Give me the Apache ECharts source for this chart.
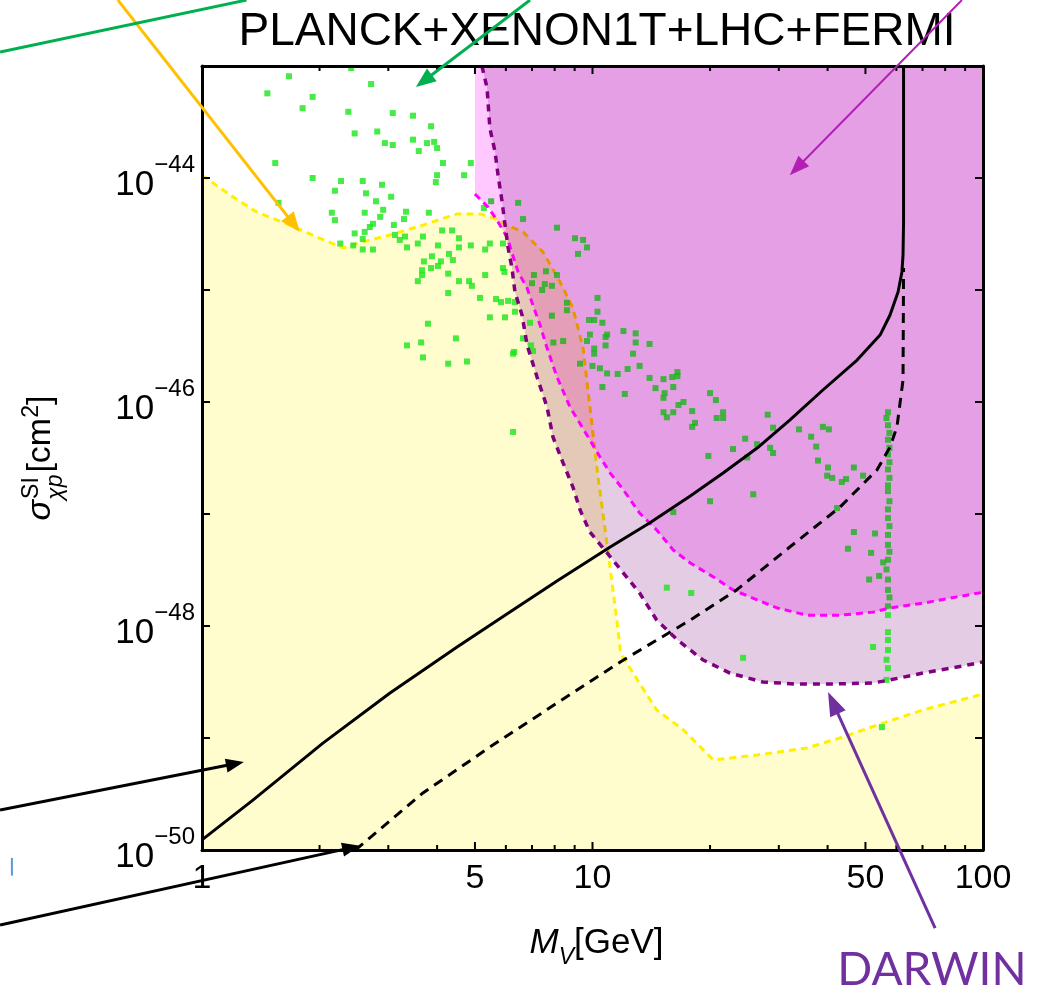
<!DOCTYPE html>
<html>
<head>
<meta charset="utf-8">
<script src="https://cdn.jsdelivr.net/npm/echarts@6/dist/echarts.min.js"></script>
<style>
  html, body { margin: 0; padding: 0; background: #fff; }
  #chart { width: 1038px; height: 996px; }
</style>
</head>
<body>
<div id="chart"></div>
<script>
// ---------- axis ticks and labels ----------
const massTicks = [1, 2, 3, 4, 5, 6, 7, 8, 9, 10, 20, 30, 40, 50, 60, 70, 80, 90, 100];
const massLabels = [1, 5, 10, 50, 100];
const sigmaDecades = [-50, -49, -48, -47, -46, -45, -44, -43];   // powers of ten
const sigmaLabelDecades = [-50, -48, -46, -44];

// ---------- boundaries: [M_V (GeV), sigma (cm^2)] ----------
// neutrino floor (yellow, shaded below)
const neutrinoFloor = [
  [1.0, 1.06e-44], [1.18, 7.05e-45], [1.38, 4.97e-45], [1.68, 3.8e-45], [1.97, 2.97e-45],
  [2.30, 2.37e-45], [2.58, 2.69e-45], [3.03, 3.1e-45], [3.68, 3.8e-45], [4.50, 4.78e-45],
  [5.15, 4.78e-45], [5.56, 4.4e-45], [6.04, 3.8e-45], [6.64, 3.3e-45], [7.47, 2.18e-45],
  [8.26, 1.18e-45], [8.91, 6.9e-46], [9.46, 3.03e-46], [9.85, 9.0e-47], [10.3, 2.32e-47],
  [10.8, 6.76e-48], [11.2, 2.58e-48], [11.6, 9.8e-49], [11.8, 5.74e-49], [12.7, 3.8e-49],
  [14.6, 1.78e-49], [17.1, 1.18e-49], [20.4, 6.37e-50], [26.4, 7.05e-50], [35.4, 8.15e-50],
  [43.0, 1.0e-49], [55.5, 1.36e-49], [70.2, 1.78e-49], [100, 2.47e-49]
];
// direct-detection limit (magenta, shaded above; vertical edge at 5 GeV)
const directLimitEdge = [5.0, 1e-43];
const directLimit = [
  [5.0, 7.2e-45], [5.40, 5.5e-45], [5.73, 4.05e-45], [6.04, 2.97e-45], [6.22, 2.14e-45],
  [6.45, 1.45e-45], [6.80, 1.04e-45], [7.04, 7.3e-46], [7.34, 4.86e-46], [7.65, 3.03e-46],
  [8.11, 1.67e-46], [8.76, 9.0e-47], [9.57, 5.4e-47], [10.45, 3.23e-47], [11.1, 2.32e-47],
  [12.0, 1.64e-47], [13.2, 1.02e-47], [14.6, 7.2e-48], [16.1, 4.77e-48], [17.8, 3.65e-48],
  [20.4, 2.74e-48], [22.9, 2.1e-48], [26.4, 1.71e-48], [29.7, 1.45e-48], [35.4, 1.25e-48],
  [43.0, 1.25e-48], [52.3, 1.33e-48], [57.8, 1.45e-48], [70.2, 1.6e-48], [85.8, 1.82e-48],
  [100, 2.0e-48]
];
// DARWIN projected reach (purple, shaded above)
const darwinReach = [
  [5.21, 1e-43], [5.37, 6.37e-44], [5.46, 2.79e-44], [5.63, 1.71e-44], [5.73, 1.06e-44],
  [5.87, 6.1e-45], [5.97, 3.8e-45], [6.08, 2.37e-45], [6.22, 1.57e-45], [6.33, 9.6e-46],
  [6.60, 5.98e-46], [6.80, 3.23e-46], [7.21, 1.67e-46], [7.65, 9.0e-47], [7.92, 4.87e-47],
  [8.41, 2.85e-47], [8.91, 1.74e-47], [9.29, 1.09e-47], [9.85, 6.9e-48], [10.9, 4.49e-48],
  [12.0, 2.97e-48], [13.2, 1.97e-48], [14.6, 1.13e-48], [16.5, 7.5e-49], [19.2, 4.97e-49],
  [22.5, 3.8e-49], [27.3, 3.16e-49], [33.4, 3.03e-49], [40.6, 3.03e-49], [52.3, 3.1e-49],
  [57.8, 3.3e-49], [70.2, 3.8e-49], [85.8, 4.3e-49], [100, 4.78e-49]
];
// model cross sections (black)
const sigmaSolid = [
  [1.0, 1.23e-50], [1.35, 2.79e-50], [2.04, 9.0e-50], [3.03, 2.52e-49], [4.50, 6.5e-49],
  [5.97, 1.25e-48], [8.11, 2.52e-48], [11.1, 5.07e-48], [14.0, 8.3e-48], [17.8, 1.45e-47],
  [21.6, 2.32e-47], [26.4, 3.88e-47], [32.0, 6.9e-47], [38.9, 1.28e-46], [47.6, 2.37e-46],
  [54.5, 3.96e-46], [57.8, 5.98e-46], [60.6, 9.6e-46], [62.0, 1.45e-45], [62.4, 2.05e-45],
  [62.6, 4.05e-45], [62.6, 1e-43]
];
const sigmaDashed = [
  [2.47, 1e-50], [2.65, 1.23e-50], [3.68, 3.23e-50], [5.46, 8.3e-50], [8.11, 2.05e-49],
  [12.0, 4.97e-49], [17.8, 1.13e-48], [23.4, 2.1e-48], [32.0, 5.07e-48], [43.0, 1.15e-47],
  [53.5, 2.47e-47], [57.8, 3.96e-47], [60.2, 5.98e-47], [62.4, 1.57e-46], [62.6, 1.57e-45]
];

// ---------- parameter scan points ----------
const scanPoints = [
  [1.67, 8.1e-44], [2.41, 9.6e-44], [2.71, 6.9e-44], [1.47, 5.7e-44], [1.92, 5.3e-44],
  [1.81, 4.2e-44], [2.37, 3.9e-44], [3.08, 3.8e-44], [3.47, 3.6e-44], [3.86, 2.9e-44],
  [2.46, 2.5e-44], [2.81, 2.6e-44], [3.47, 2.2e-44], [2.94, 2.05e-44], [3.08, 1.97e-44],
  [3.77, 2.05e-44], [3.93, 2.1e-44], [4.0, 1.85e-44], [3.59, 1.74e-44], [4.14, 1.36e-44],
  [4.88, 1.36e-44], [1.54, 1.36e-44], [4.69, 1.06e-44], [4.0, 1.06e-44], [3.97, 9.2e-45],
  [1.92, 1.0e-44], [2.27, 9.4e-45], [2.58, 9.4e-45], [2.89, 8.7e-45], [2.19, 7.7e-45],
  [2.63, 7.3e-45], [3.05, 6.8e-45], [1.57, 6.0e-45], [2.79, 6.2e-45], [2.91, 5.2e-45],
  [2.61, 4.9e-45], [2.15, 4.9e-45], [2.19, 4.2e-45], [2.86, 4.5e-45], [3.33, 5.0e-45],
  [3.29, 4.3e-45], [3.81, 4.9e-45], [5.5, 6.2e-45], [6.45, 6.0e-45], [6.64, 4.3e-45],
  [5.27, 5.4e-45], [2.26, 2.6e-45], [2.44, 2.5e-45], [2.46, 3.2e-45], [2.58, 2.85e-45],
  [2.61, 3.3e-45], [2.69, 3.65e-45], [2.74, 3.9e-45], [3.10, 3.8e-45], [3.12, 3.1e-45],
  [3.21, 2.8e-45], [3.31, 3.0e-45], [2.58, 2.3e-45], [2.74, 2.3e-45], [3.35, 2.4e-45],
  [3.57, 2.6e-45], [3.68, 3.0e-45], [4.02, 2.5e-45], [4.12, 3.4e-45], [4.37, 3.4e-45],
  [4.55, 2.9e-45], [4.55, 2.4e-45], [4.88, 2.5e-45], [5.31, 2.3e-45], [5.46, 2.6e-45],
  [5.9, 2.6e-45], [4.29, 2.1e-45], [3.88, 2.0e-45], [4.09, 1.8e-45], [3.70, 1.8e-45],
  [4.39, 1.85e-45], [3.66, 1.5e-45], [3.66, 1.36e-45], [3.57, 1.2e-45], [3.86, 1.57e-45],
  [4.02, 1.64e-45], [4.27, 1.4e-45], [4.55, 1.2e-45], [4.83, 1.2e-45], [4.91, 1.09e-45],
  [5.31, 1.36e-45], [5.9, 1.57e-45], [5.95, 1.45e-45], [8.11, 3.6e-45], [9.02, 2.9e-45],
  [9.46, 2.8e-45], [9.68, 2.4e-45], [9.18, 2.1e-45], [7.08, 1.36e-45], [7.6, 1.47e-45],
  [8.11, 1.36e-45], [7.0, 1.15e-45], [7.55, 1.13e-45], [7.87, 1.09e-45], [7.43, 1.0e-45],
  [6.08, 8.0e-46], [6.33, 7.8e-46], [5.83, 7.8e-46], [5.66, 8.3e-46], [5.15, 8.5e-46],
  [5.46, 5.7e-46], [5.97, 5.7e-46], [6.33, 6.4e-46], [8.6, 7.7e-46], [8.6, 6.6e-46],
  [7.87, 5.9e-46], [10.3, 8.5e-46], [10.3, 6.4e-46], [9.8, 5.4e-46], [10.1, 5.4e-46],
  [10.6, 5.1e-46], [6.92, 5.1e-46], [4.27, 9.4e-46], [3.79, 5.0e-46], [4.47, 3.7e-46],
  [3.35, 3.2e-46], [3.64, 3.4e-46], [6.64, 3.7e-46], [10.8, 3.8e-46], [9.85, 4.0e-46],
  [7.94, 3.4e-46], [8.41, 3.5e-46], [9.68, 3.5e-46], [10.1, 3.0e-46], [10.8, 3.2e-46],
  [6.96, 3.2e-46], [6.3, 2.8e-46], [7.04, 2.85e-46], [3.68, 2.5e-46], [4.27, 2.2e-46],
  [4.77, 2.3e-46], [6.26, 2.7e-46], [6.26, 5.4e-47], [9.29, 2.2e-46], [10.0, 2.1e-46],
  [10.9, 1.8e-46], [10.6, 1.36e-46], [12.0, 4.3e-46], [12.9, 4.1e-46], [12.9, 3.4e-46],
  [14.0, 3.3e-46], [10.9, 4.0e-46], [12.7, 2.7e-46], [10.1, 2.7e-46], [10.45, 2.0e-46],
  [11.6, 1.78e-46], [12.3, 1.97e-46], [13.2, 2.1e-46], [12.1, 1.18e-46], [14.0, 1.64e-46],
  [14.5, 1.33e-46], [15.2, 1.6e-46], [16.0, 1.67e-46], [16.5, 1.85e-46], [16.5, 1.7e-46],
  [16.1, 1.36e-46], [15.3, 1.2e-46], [15.2, 1.09e-46], [17.1, 1.0e-46], [16.6, 9.4e-47],
  [16.1, 8.1e-47], [15.2, 8.1e-47], [15.5, 7.3e-47], [18.0, 8.3e-47], [18.3, 6.5e-47],
  [18.0, 6.0e-47], [20.0, 1.2e-46], [20.7, 1.04e-46], [21.6, 8.1e-47], [20.8, 7.2e-47],
  [21.6, 7.2e-47], [28.1, 7.7e-47], [29.0, 5.9e-47], [33.8, 5.7e-47], [38.9, 6.0e-47],
  [40.3, 5.7e-47], [36.3, 4.9e-47], [37.4, 4.0e-47], [24.6, 4.7e-47], [22.9, 3.8e-47],
  [26.4, 4.2e-47], [28.5, 3.9e-47], [29.0, 3.5e-47], [19.8, 3.3e-47], [24.9, 3.2e-47],
  [25.8, 1.5e-47], [20.0, 1.3e-47], [16.1, 1.04e-47], [37.8, 3.0e-47], [40.1, 2.6e-47],
  [39.9, 2.2e-47], [41.1, 2.1e-47], [43.5, 1.93e-47], [44.6, 2.05e-47], [46.7, 2.6e-47],
  [49.3, 2.2e-47], [42.3, 1.13e-47], [46.7, 6.9e-48], [52.9, 6.7e-48], [45.1, 4.9e-48],
  [51.7, 4.5e-48], [55.5, 3.7e-48], [51.1, 2.6e-48], [54.2, 2.8e-48], [15.5, 2.2e-48],
  [17.9, 1.97e-48], [55.1, 1.25e-49], [52.3, 6.5e-49], [24.3, 5.2e-49],
  // resonance column near M_V ~ 57 GeV
  [57.1, 8.1e-47], [56.6, 7.2e-47], [57.1, 6.2e-47], [57.6, 5.3e-47], [57.1, 4.6e-47],
  [57.6, 3.9e-47], [57.1, 3.4e-47], [57.6, 2.9e-47], [57.1, 2.5e-47], [57.6, 2.1e-47],
  [57.1, 1.8e-47], [57.1, 1.6e-47], [57.6, 1.3e-47], [57.1, 1.1e-47], [57.1, 9.2e-48],
  [57.6, 7.8e-48], [57.1, 6.5e-48], [57.1, 5.3e-48], [57.6, 4.6e-48], [57.1, 3.9e-48],
  [56.6, 3.2e-48], [57.1, 2.6e-48], [57.1, 2.1e-48], [57.6, 1.8e-48], [57.1, 1.5e-48],
  [57.1, 1.25e-48], [57.1, 8.8e-49], [57.1, 7.5e-49], [57.1, 6.1e-49], [56.6, 5.0e-49],
  [57.1, 4.2e-49], [56.6, 3.3e-49]
];

// ---------- pointer arrows and notes around the frame ----------
const pointerArrows = [
  { from: [0.609, 3.88e-43], to: [1.78, 3.3e-45], color: '#ffc000', width: 3, head: [20, 16] },
  { from: [0.304, 1.33e-43], to: [1.30, 3.88e-43], color: '#00b050', width: 3, head: null },
  { from: [6.92, 3.88e-43], to: [3.53, 6.5e-44], color: '#00b050', width: 3, head: [20, 16] },
  { from: [88.3, 3.88e-43], to: [32.0, 1.06e-44], color: '#b21fb5', width: 2, head: [20, 15] },
  { from: [0.304, 2.28e-50], to: [1.28, 6.1e-50], color: '#000000', width: 3, head: [18, 14] },
  { from: [0.304, 2.14e-51], to: [2.54, 1.09e-50], color: '#000000', width: 3, head: [18, 14] },
  { from: [75.4, 2.01e-51], to: [40.1, 2.58e-49], color: '#7030a0', width: 3, head: [24, 17] },
  { from: [0.326, 8.5e-51], to: [0.326, 5.9e-51], color: '#5b9bd5', width: 2, head: null }
];
const darwinNote = { text: 'DARWIN', at: [74.0, 8.5e-52] };

const FONT = '"Liberation Sans", Arial, sans-serif';
const MASS_MIN = 1, MASS_MAX = 100;
const DEC_MIN = -50, DEC_MAX = -43;

// The cross-section axis is laid out in decades (log10 of sigma in cm^2).
const toDecades = pts => pts.map(p => [p[0], Math.log10(p[1])]);

const chart = echarts.init(document.getElementById('chart'), null, { renderer: 'canvas' });

function massAxis(position, withLabels) {
  return {
    type: 'log', logBase: 10, min: MASS_MIN, max: MASS_MAX, position: position, z: 20,
    axisLine: { show: true, onZero: false, lineStyle: { color: '#000', width: 3 } },
    axisTick: { show: false },
    splitLine: { show: false }, minorTick: { show: false },
    axisLabel: withLabels ? { show: true, customValues: massLabels, color: '#000', fontSize: 34,
      fontFamily: FONT, margin: 12, formatter: v => String(Math.round(v)) } : { show: false }
  };
}
function sigmaAxis(position, withLabels) {
  return {
    type: 'value', min: DEC_MIN, max: DEC_MAX, interval: 1, position: position, z: 20,
    axisLine: { show: true, onZero: false, lineStyle: { color: '#000', width: 3 } },
    axisTick: { show: true, inside: true, length: 8, lineStyle: { color: '#000', width: 2 } },
    splitLine: { show: false }, minorTick: { show: false },
    axisLabel: withLabels ? {
      show: true, margin: 7, showMinLabel: true, showMaxLabel: true,
      formatter: v => sigmaLabelDecades.indexOf(Math.round(v)) >= 0
        ? '{b|10}{s|\u2212' + (-Math.round(v)) + '}' : '',
      rich: {
        b: { fontSize: 35, fontFamily: FONT, color: '#000', lineHeight: 49, verticalAlign: 'bottom' },
        s: { fontSize: 24, fontFamily: FONT, color: '#000', lineHeight: 24, verticalAlign: 'top' }
      }
    } : { show: false }
  };
}

// polygon fill for a bounded region, drawn through the axes' own scales
function regionSeries(outline, z, color, blend) {
  const pts = toDecades(outline);
  return {
    type: 'custom', z: z, silent: true, clip: true, blendMode: blend || 'source-over',
    data: [pts[0]],
    renderItem: (params, api) => ({
      type: 'polygon',
      shape: { points: pts.map(p => api.coord(p)) },
      style: { fill: color }
    })
  };
}

// log-spaced tick marks along the top and bottom edges of the frame
const massTickSeries = {
  type: 'custom', z: 30, silent: true, clip: false,
  data: massTicks.map(v => [v, DEC_MIN]),
  renderItem: (params, api) => {
    const v = api.value(0);
    const b = api.coord([v, DEC_MIN]), t = api.coord([v, DEC_MAX]);
    const L = massLabels.indexOf(v) >= 0 ? 8 : 5;
    const st = { stroke: '#000', lineWidth: 2 };
    return { type: 'group', children: [
      { type: 'line', shape: { x1: b[0], y1: b[1], x2: b[0], y2: b[1] - L }, style: st },
      { type: 'line', shape: { x1: t[0], y1: t[1], x2: t[0], y2: t[1] + L }, style: st }
    ] };
  }
};

function curve(data, z, color, width, dash) {
  return { type: 'line', data: toDecades(data), z: z, symbol: 'none', silent: true,
    lineStyle: { color: color, width: width, type: dash || 'solid', join: 'round' } };
}

chart.setOption({
  animation: false,
  backgroundColor: '#ffffff',
  title: {
    text: 'PLANCK+XENON1T+LHC+FERMI', left: 592, top: 4, textAlign: 'center',
    textStyle: { fontSize: 46, fontWeight: 'normal', fontFamily: FONT, color: '#000' }
  },
  grid: { left: 202, right: 55, top: 66, bottom: 146, containLabel: false, outerBoundsMode: 'none' },
  xAxis: [massAxis('bottom', true), massAxis('top', false)],
  yAxis: [sigmaAxis('left', true), sigmaAxis('right', false)],
  series: [
    regionSeries(neutrinoFloor.concat([[MASS_MAX, 1e-50], [MASS_MIN, 1e-50]]), 1, '#fffccd', null),
    curve(neutrinoFloor, 2, '#fff000', 3, [7, 5]),
    regionSeries(darwinReach.concat([[MASS_MAX, 1e-43]]), 3, '#e5cce5', 'multiply'),
    { // scan points
      type: 'scatter', data: toDecades(scanPoints), z: 4, symbol: 'rect', symbolSize: 6, silent: true,
      itemStyle: { color: '#19e619' }
    },
    regionSeries([directLimitEdge].concat(directLimit, [[MASS_MAX, 1e-43]]), 5, '#ffc8ff', 'multiply'),
    curve(directLimit, 6, '#ff00ff', 3, [7, 5]),
    curve(darwinReach, 6, '#800080', 3.5, [7, 6]),
    curve(sigmaSolid, 7, '#000000', 3),
    curve(sigmaDashed, 7, '#000000', 3, [10, 7]),
    massTickSeries
  ]
});

// ---------- overlays: axis titles, arrows, note ----------
function toPx(p) { return chart.convertToPixel({ xAxisIndex: 0, yAxisIndex: 0 }, [p[0], Math.log10(p[1])]); }
const mctx = document.createElement('canvas').getContext('2d');
function textWidth(t, font) { mctx.font = font; return mctx.measureText(t).width; }

const overlay = [];
const lowLeft = toPx([MASS_MIN, 1e-50]), upRight = toPx([MASS_MAX, 1e-43]);
const gRect = { x: lowLeft[0], y: upRight[1], width: upRight[0] - lowLeft[0], height: lowLeft[1] - upRight[1] };

// x-axis title: M_V[GeV]
(function () {
  const big = 35, small = 23;
  const parts = [
    { t: 'M', size: big, style: 'italic', dy: 0 },
    { t: 'V', size: small, style: 'italic', dy: 8 },
    { t: '[GeV]', size: big, style: 'normal', dy: 0 }
  ];
  const fnt = p => p.style + ' ' + p.size + 'px ' + FONT;
  const total = parts.reduce((s, p) => s + textWidth(p.t, fnt(p)), 0);
  let x = gRect.x + gRect.width / 2 - total / 2 + 4;
  const base = gRect.y + gRect.height + 111;
  parts.forEach(p => {
    overlay.push({ type: 'text', x: x, y: base + p.dy, z: 50, silent: true,
      style: { text: p.t, fontSize: p.size, fontStyle: p.style, fontFamily: FONT, fill: '#000',
        align: 'left', verticalAlign: 'bottom' } });
    x += textWidth(p.t, fnt(p));
  });
})();

// y-axis title: sigma^SI_(chi p) [cm^2], rotated
(function () {
  const big = 34, small = 23;
  const children = [];
  const sW = textWidth('\u03c3', 'italic ' + big + 'px ' + FONT);
  const supW = textWidth('SI', small + 'px ' + FONT);
  const subW = textWidth('\u03c7p', 'italic ' + small + 'px ' + FONT);
  const cmW = textWidth('[cm', big + 'px ' + FONT);
  const twoW = textWidth('2', small + 'px ' + FONT);
  const brW = textWidth(']', big + 'px ' + FONT);
  const total = sW + Math.max(supW, subW) + 2 + cmW + twoW + brW;
  let x = -total / 2;
  const add = (t, size, style, dx, dy) => children.push({ type: 'text', x: x + dx, y: dy, silent: true,
    style: { text: t, fontSize: size, fontStyle: style, fontFamily: FONT, fill: '#000',
      align: 'left', verticalAlign: 'bottom' } });
  add('\u03c3', big, 'italic', 0, 0); x += sW;
  add('SI', small, 'normal', 1, -15);
  add('\u03c7p', small, 'italic', 0, 9); x += Math.max(supW, subW) + 2;
  add('[cm', big, 'normal', 0, 0); x += cmW;
  add('2', small, 'normal', 0, -15); x += twoW;
  add(']', big, 'normal', 0, 0);
  overlay.push({ type: 'group', x: gRect.x - 144, y: gRect.y + gRect.height / 2, rotation: Math.PI / 2,
    z: 50, silent: true, children: children });
})();

// pointer arrows
pointerArrows.forEach(a => {
  const s = toPx(a.from), t = toPx(a.to);
  const dx = t[0] - s[0], dy = t[1] - s[1];
  const len = Math.hypot(dx, dy), ux = dx / len, uy = dy / len;
  let ex = t[0], ey = t[1];
  if (a.head) {
    const L = a.head[0], W = a.head[1];
    ex = t[0] - ux * L * 0.8; ey = t[1] - uy * L * 0.8;
    const bx = t[0] - ux * L, by = t[1] - uy * L;
    overlay.push({ type: 'polygon', z: 60, silent: true,
      shape: { points: [[t[0], t[1]], [bx - uy * W / 2, by + ux * W / 2], [bx + uy * W / 2, by - ux * W / 2]] },
      style: { fill: a.color } });
  }
  overlay.push({ type: 'line', z: 60, silent: true,
    shape: { x1: s[0], y1: s[1], x2: ex, y2: ey },
    style: { stroke: a.color, lineWidth: a.width } });
});

// DARWIN note
(function () {
  const p = toPx(darwinNote.at);
  overlay.push({ type: 'text', x: p[0], y: p[1], z: 60, silent: true,
    style: { text: darwinNote.text, fontSize: 46, fontFamily: 'Lato, "Open Sans", sans-serif',
      fill: '#7030a0', align: 'center', verticalAlign: 'middle' } });
})();

chart.setOption({ graphic: { elements: overlay } });
</script>
</body>
</html>
